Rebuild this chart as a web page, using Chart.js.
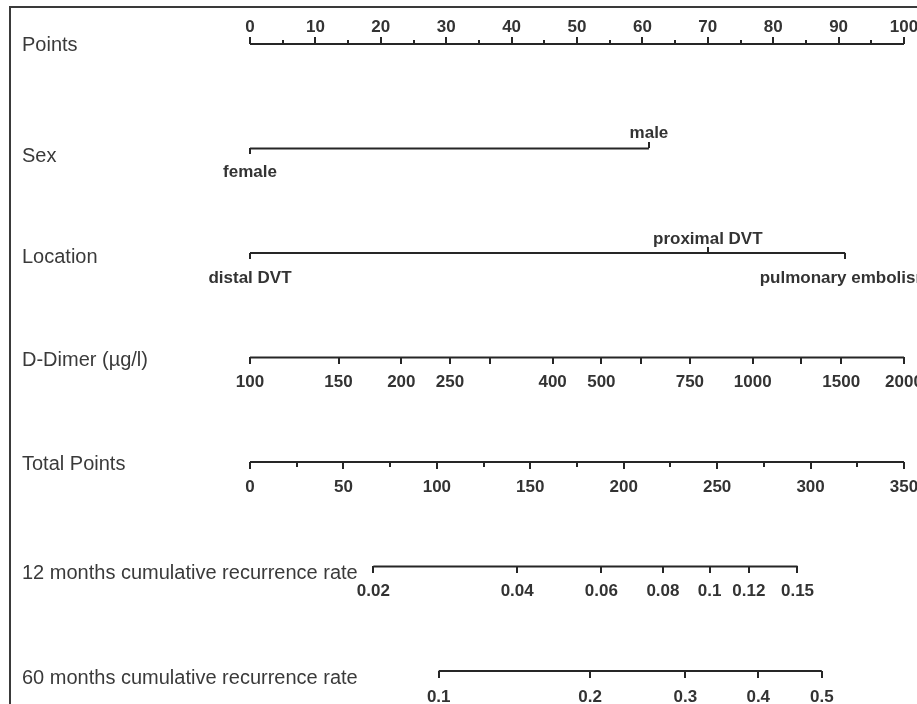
<!DOCTYPE html>
<html>
<head>
<meta charset="utf-8">
<title>Nomogram</title>
<script src="https://cdn.jsdelivr.net/npm/chart.js"></script>
<style>
  html, body { margin: 0; padding: 0; background: #fff; overflow: hidden; }
  #frame {
    position: absolute; left: 9px; top: 6px; width: 1000px; height: 800px;
    border-left: 2px solid #3a3a3a; border-top: 2px solid #3a3a3a;
  }
  #nomogram { position: absolute; left: 0; top: 0; }
</style>
</head>
<body>
<div id="frame"></div>
<canvas id="nomogram" width="917" height="704"></canvas>
<script>
const rowTitles = [
  'Points',
  'Sex',
  'Location',
  'D-Dimer (µg/l)',
  'Total Points',
  '12 months cumulative recurrence rate',
  '60 months cumulative recurrence rate'
];

const pointsTicks = [0, 10, 20, 30, 40, 50, 60, 70, 80, 90, 100];
const pointsMinorTicks = [5, 15, 25, 35, 45, 55, 65, 75, 85, 95];

const sexLevels = ['female', 'male'];
const sexPoints = [0, 61];

const locationLevels = ['distal DVT', 'proximal DVT', 'pulmonary embolism'];
const locationPoints = [0, 70, 91];

const dDimerTicks = [100, 150, 200, 250, 300, 400, 500, 600, 750, 1000, 1250, 1500, 2000];
const dDimerLabels = ['100', '150', '200', '250', '', '400', '500', '', '750', '1000', '', '1500', '2000'];

const totalTicks = [0, 50, 100, 150, 200, 250, 300, 350];
const totalMinorTicks = [25, 75, 125, 175, 225, 275, 325];

// Rate -> Lage auf der Total-Points-Skala
const rate12Labels = ['0.02', '0.04', '0.06', '0.08', '0.1', '0.12', '0.15'];
const rate12Total = [66, 143, 188, 221, 246, 267, 293];

const rate60Labels = ['0.1', '0.2', '0.3', '0.4', '0.5'];
const rate60Total = [101, 182, 233, 272, 306];

// Stil
const LINE = '#262626';
const TEXT = '#333333';
const FONT = '"Liberation Sans", Arial, Helvetica, sans-serif';
const TICK_SIZE = 17;
const LH = TICK_SIZE * 1.2;
const Y_MIN = -0.421;
const Y_MAX = 6.316;
const ROW_PX = 704 / (Y_MAX - Y_MIN);
// Titel sitzen je Zeile etwas unterhalb der Linie (px)
const titleShift = [1, 8, 4, 3, 3, 7, 8];

function zeroPadding(axis) {
  axis.paddingLeft = 0;
  axis.paddingRight = 0;
  axis.paddingTop = 0;
  axis.paddingBottom = 0;
}

// Eine Zeile des Nomogramms als x-Achse auf Höhe "row"
function rowAxis(row, values, labels, opt) {
  const up = opt.side === 'above';
  const len = opt.tickLength;
  const tl = up ? -len : len;
  const pad = up ? -opt.gap + len - LH / 2 : opt.gap - len - LH / 2;
  return {
    type: opt.type || 'linear',
    position: { y: row },
    min: opt.min,
    max: opt.max,
    border: { display: false },
    grid: { drawOnChartArea: false, color: LINE, lineWidth: 2, tickLength: tl },
    ticks: {
      autoSkip: false,
      maxRotation: 0,
      minRotation: 0,
      padding: pad,
      color: TEXT,
      font: { family: FONT, size: TICK_SIZE, weight: 'bold' },
      callback: (value, index) => labels[index]
    },
    afterBuildTicks: axis => { axis.ticks = values.map(v => ({ value: v })); },
    afterFit: zeroPadding
  };
}

const evenIdx = arr => arr.filter((_, i) => i % 2 === 0);
const oddIdx = arr => arr.filter((_, i) => i % 2 === 1);
const blank = arr => arr.map(() => '');

function segment(values, row, axisId) {
  return {
    data: [{ x: Math.min(...values), y: row }, { x: Math.max(...values), y: row }],
    xAxisID: axisId,
    yAxisID: 'y',
    showLine: true,
    borderColor: LINE,
    borderWidth: 2,
    pointRadius: 0
  };
}

const scales = {
  x: rowAxis(0, pointsTicks, pointsTicks.map(String),
    { side: 'above', tickLength: 7, gap: 17, min: 0, max: 100 }),
  xPointsMinor: rowAxis(0, pointsMinorTicks, blank(pointsMinorTicks),
    { side: 'above', tickLength: 4, gap: 17, min: 0, max: 100 }),
  xSexBelow: rowAxis(1, evenIdx(sexPoints), evenIdx(sexLevels),
    { side: 'below', tickLength: 6, gap: 24, min: 0, max: 100 }),
  xSexAbove: rowAxis(1, oddIdx(sexPoints), oddIdx(sexLevels),
    { side: 'above', tickLength: 6, gap: 15, min: 0, max: 100 }),
  xLocBelow: rowAxis(2, evenIdx(locationPoints), evenIdx(locationLevels),
    { side: 'below', tickLength: 6, gap: 25, min: 0, max: 100 }),
  xLocAbove: rowAxis(2, oddIdx(locationPoints), oddIdx(locationLevels),
    { side: 'above', tickLength: 6, gap: 14, min: 0, max: 100 }),
  xDimer: rowAxis(3, dDimerTicks, dDimerLabels,
    { side: 'below', tickLength: 7, gap: 25, type: 'logarithmic', min: 100, max: 2000 }),
  xTotal: rowAxis(4, totalTicks, totalTicks.map(String),
    { side: 'below', tickLength: 7, gap: 25, min: 0, max: 350 }),
  xTotalMinor: rowAxis(4, totalMinorTicks, blank(totalMinorTicks),
    { side: 'below', tickLength: 5, gap: 25, min: 0, max: 350 }),
  x12: rowAxis(5, rate12Total, rate12Labels,
    { side: 'below', tickLength: 7, gap: 25, min: 0, max: 350 }),
  x60: rowAxis(6, rate60Total, rate60Labels,
    { side: 'below', tickLength: 7, gap: 26, min: 0, max: 350 }),
  y: {
    type: 'linear',
    position: 'left',
    reverse: true,
    min: Y_MIN,
    max: Y_MAX,
    grid: { display: false },
    border: { display: false },
    ticks: {
      autoSkip: false,
      mirror: true,          // sonst werden lange Titel am Achsenrand abgeschnitten
      crossAlign: 'near',
      padding: -228,
      color: '#3a3a3a',
      font: { family: FONT, size: 20 },
      callback: (value, index) => rowTitles[index]
    },
    afterBuildTicks: axis => {
      axis.ticks = rowTitles.map((t, i) => ({ value: i + titleShift[i] / ROW_PX }));
    },
    afterFit: axis => { zeroPadding(axis); axis.width = 228; }
  }
};

const datasets = [
  segment(pointsTicks, 0, 'x'),
  segment(sexPoints, 1, 'xSexBelow'),
  segment(locationPoints, 2, 'xLocBelow'),
  segment(dDimerTicks, 3, 'xDimer'),
  segment(totalTicks, 4, 'xTotal'),
  segment(rate12Total, 5, 'x12'),
  segment(rate60Total, 6, 'x60')
];

new Chart(document.getElementById('nomogram'), {
  type: 'scatter',
  data: { datasets },
  options: {
    responsive: false,
    animation: false,
    events: [],
    devicePixelRatio: 1,
    layout: { padding: { left: 22, right: 13, top: 0, bottom: 0 } },
    plugins: {
      legend: { display: false },
      tooltip: { enabled: false }
    },
    scales
  }
});
</script>
</body>
</html>
